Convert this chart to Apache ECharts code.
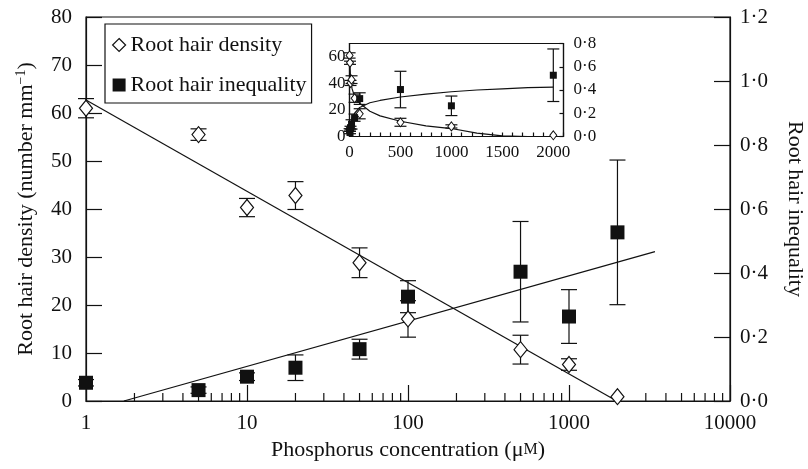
<!DOCTYPE html>
<html>
<head>
<meta charset="utf-8">
<script src="https://cdn.jsdelivr.net/npm/echarts@6/dist/echarts.min.js"></script>
<style>
  html, body { margin: 0; padding: 0; background: #fff; }
  #chart { width: 808px; height: 469px; }
</style>
</head>
<body>
<div id="chart"></div>
<script>
  const concentration = [1, 5, 10, 20, 50, 100, 500, 1000, 2000]
  const density = [61, 55.5, 40.3, 42.8, 28.8, 17.1, 10.7, 7.6, 0.9]
  const densityErr = [2, 1.2, 1.9, 2.9, 3.1, 3.8, 3, 1.2, 0]
  const inequality = [0.057, 0.034, 0.076, 0.104, 0.162, 0.326, 0.404, 0.264, 0.527]
  const inequalityErr = [0.01, 0.01, 0.012, 0.04, 0.031, 0.05, 0.157, 0.084, 0.226]

  // fitted lines on the log axis
  const densityFit = [[1, 62.7], [1980, 0]]
  const inequalityFit = [[1.72, 0], [3420, 0.467]]

  // the same fits as they appear in the linear inset
  const insetDensityFitX = [1, 10, 25, 50, 100, 200, 300, 500, 750, 1000, 1250, 1500, 1750, 2000]
  const insetDensityFit = [62, 44, 36, 30, 25, 19, 15.5, 11.5, 8, 6, 2.5, 0.5, 0, 0]
  const insetInequalityFitX = [2, 10, 25, 50, 100, 200, 300, 500, 750, 1000, 1250, 1500, 1750, 2000]
  const insetInequalityFit = [0.01, 0.11, 0.16, 0.2, 0.25, 0.29, 0.31, 0.34, 0.365, 0.385, 0.4, 0.41, 0.42, 0.425]

  // minor ticks of the log axis (2..9 in every decade)
  const decades = [1, 10, 100, 1000]
  const minorTicks = []
  decades.forEach((d) => {
    for (let k = 2; k <= 9; k++) minorTicks.push(k * d)
  })

  const font = "'Liberation Serif', 'Times New Roman', serif"
  const ink = '#111'
  const dot = (v) => v.toFixed(1).replace('.', '\u00b7')

  const pairs = (xs, ys) => xs.map((x, i) => [x, ys[i]])
  const bars = (vals, errs) =>
    concentration
      .map((c, i) => [c, vals[i] - errs[i], vals[i] + errs[i], errs[i]])
      .filter((d) => d[3] > 0)

  function errorBar(capHalf) {
    return function (params, api) {
      const x = api.value(0)
      const lo = api.coord([x, api.value(1)])
      const hi = api.coord([x, api.value(2)])
      const style = { stroke: ink, lineWidth: 1.2 }
      return {
        type: 'group',
        children: [
          { type: 'line', shape: { x1: hi[0], y1: hi[1], x2: lo[0], y2: lo[1] }, style },
          { type: 'line', shape: { x1: hi[0] - capHalf, y1: hi[1], x2: hi[0] + capHalf, y2: hi[1] }, style },
          { type: 'line', shape: { x1: lo[0] - capHalf, y1: lo[1], x2: lo[0] + capHalf, y2: lo[1] }, style }
        ]
      }
    }
  }

  const chart = echarts.init(document.getElementById('chart'))

  const axisLine = { show: true, lineStyle: { color: ink, width: 1.2 } }
  const bigLabel = { color: ink, fontFamily: font, fontSize: 21 }
  const smallLabel = { color: ink, fontFamily: font, fontSize: 17 }

  chart.setOption({
    animation: false,
    backgroundColor: '#fff',
    grid: [
      { left: 86, right: 78, top: 17, bottom: 68, show: true, borderColor: ink, borderWidth: 1.2, outerBoundsMode: 'none' },
      { left: 349.5, top: 43.5, width: 214, height: 93, show: true, borderColor: ink, borderWidth: 1.2, backgroundColor: '#fff', outerBoundsMode: 'none' }
    ],
    legend: {
      left: 105,
      top: 24,
      orient: 'vertical',
      padding: [10, 5, 7, 7],
      itemGap: 18,
      itemWidth: 13,
      itemHeight: 13,
      borderColor: ink,
      borderWidth: 1.2,
      selectedMode: false,
      textStyle: { color: ink, fontFamily: font, fontSize: 22, lineHeight: 20 },
      data: [
        { name: 'Root hair density', icon: 'diamond', itemStyle: { color: '#fff', borderColor: ink, borderWidth: 1.2 } },
        { name: 'Root hair inequality', icon: 'rect', itemStyle: { color: ink } }
      ]
    },
    xAxis: [
      {
        type: 'log',
        logBase: 10,
        min: 1,
        max: 10000,
        gridIndex: 0,
        name: 'Phosphorus concentration (\u03bc{sc|M})',
        nameLocation: 'middle',
        nameGap: 38,
        nameTextStyle: {
          color: ink, fontFamily: font, fontSize: 22,
          rich: { sc: { fontFamily: font, fontSize: 16, color: ink } }
        },
        axisLine,
        axisTick: { inside: true, length: 16, lineStyle: { color: ink, width: 1.2 } },
        axisLabel: { ...bigLabel, margin: 12, formatter: (v) => String(v) },
        splitLine: { show: false }
      },
      {
        type: 'value',
        min: 0,
        max: 2100,
        interval: 100,
        gridIndex: 1,
        axisLine,
        axisTick: { inside: true, length: 4, lineStyle: { color: ink, width: 1.2 } },
        axisLabel: { ...smallLabel, margin: 8, formatter: (v) => (v % 500 === 0 ? String(v) : '') },
        splitLine: { show: false }
      }
    ],
    yAxis: [
      {
        type: 'value',
        min: 0,
        max: 80,
        interval: 10,
        gridIndex: 0,
        name: 'Root hair density (number mm{sup|\u22121})',
        nameLocation: 'middle',
        nameGap: 48,
        nameTextStyle: {
          color: ink, fontFamily: font, fontSize: 22,
          rich: { sup: { fontFamily: font, fontSize: 14, color: ink, verticalAlign: 'top', padding: [0, 0, 10, 0] } }
        },
        axisLine,
        axisTick: { inside: true, length: 16, lineStyle: { color: ink, width: 1.2 } },
        axisLabel: { ...bigLabel, margin: 14 },
        splitLine: { show: false }
      },
      {
        type: 'value',
        min: 0,
        max: 1.2,
        interval: 0.2,
        gridIndex: 0,
        position: 'right',
        name: 'Root hair inequality',
        nameLocation: 'middle',
        nameRotate: -90,
        nameGap: 54,
        nameTextStyle: { color: ink, fontFamily: font, fontSize: 22 },
        axisLine,
        axisTick: { inside: true, length: 16, lineStyle: { color: ink, width: 1.2 } },
        axisLabel: { ...bigLabel, margin: 10, formatter: dot },
        splitLine: { show: false }
      },
      {
        type: 'value',
        min: 0,
        max: 70,
        interval: 20,
        gridIndex: 1,
        axisLine,
        axisTick: { show: false },
        axisLabel: { ...smallLabel, margin: 4, formatter: (v) => (v % 20 === 0 ? String(v) : '') },
        splitLine: { show: false }
      },
      {
        type: 'value',
        min: 0,
        max: 0.8,
        interval: 0.2,
        gridIndex: 1,
        position: 'right',
        axisLine,
        axisTick: { inside: true, length: 4, lineStyle: { color: ink, width: 1.2 } },
        axisLabel: { ...smallLabel, margin: 10, formatter: dot },
        splitLine: { show: false }
      }
    ],
    series: [
      // log axis minor ticks
      {
        type: 'custom',
        xAxisIndex: 0,
        yAxisIndex: 0,
        silent: true,
        clip: false,
        data: minorTicks.map((v) => [v, 0]),
        renderItem: (params, api) => {
          const p = api.coord([api.value(0), 0])
          return {
            type: 'line',
            shape: { x1: p[0], y1: p[1], x2: p[0], y2: p[1] - 8 },
            style: { stroke: ink, lineWidth: 1.2 }
          }
        }
      },
      // main plot
      {
        type: 'line', name: 'density fit', xAxisIndex: 0, yAxisIndex: 0,
        data: densityFit, symbol: 'none', silent: true,
        lineStyle: { color: ink, width: 1.2 }, z: 2
      },
      {
        type: 'line', name: 'inequality fit', xAxisIndex: 0, yAxisIndex: 1,
        data: inequalityFit, symbol: 'none', silent: true,
        lineStyle: { color: ink, width: 1.2 }, z: 2
      },
      {
        type: 'custom', xAxisIndex: 0, yAxisIndex: 0, clip: false, silent: true,
        encode: { x: 0, y: [1, 2] },
        data: bars(density, densityErr), renderItem: errorBar(8), z: 3
      },
      {
        type: 'custom', xAxisIndex: 0, yAxisIndex: 1, clip: false, silent: true,
        encode: { x: 0, y: [1, 2] },
        data: bars(inequality, inequalityErr), renderItem: errorBar(8), z: 3
      },
      {
        type: 'scatter', name: 'Root hair density', xAxisIndex: 0, yAxisIndex: 0,
        data: pairs(concentration, density), symbol: 'diamond', symbolSize: [13, 16], clip: false,
        itemStyle: { color: '#fff', borderColor: ink, borderWidth: 1.2, opacity: 1 }, z: 5
      },
      {
        type: 'scatter', name: 'Root hair inequality', xAxisIndex: 0, yAxisIndex: 1,
        data: pairs(concentration, inequality), symbol: 'rect', symbolSize: 14, clip: false,
        itemStyle: { color: ink, opacity: 1 }, z: 5
      },
      // inset
      {
        type: 'line', xAxisIndex: 1, yAxisIndex: 2,
        data: pairs(insetDensityFitX, insetDensityFit), symbol: 'none', silent: true,
        lineStyle: { color: ink, width: 1.2 }, z: 12
      },
      {
        type: 'line', xAxisIndex: 1, yAxisIndex: 3,
        data: pairs(insetInequalityFitX, insetInequalityFit), symbol: 'none', silent: true,
        lineStyle: { color: ink, width: 1.2 }, z: 12
      },
      {
        type: 'custom', xAxisIndex: 1, yAxisIndex: 2, clip: false, silent: true,
        encode: { x: 0, y: [1, 2] },
        data: bars(density, densityErr), renderItem: errorBar(6), z: 13
      },
      {
        type: 'custom', xAxisIndex: 1, yAxisIndex: 3, clip: false, silent: true,
        encode: { x: 0, y: [1, 2] },
        data: bars(inequality, inequalityErr), renderItem: errorBar(6), z: 13
      },
      {
        type: 'scatter', xAxisIndex: 1, yAxisIndex: 2,
        data: pairs(concentration, density), symbol: 'diamond', symbolSize: [7, 9], clip: false,
        itemStyle: { color: '#fff', borderColor: ink, borderWidth: 1, opacity: 1 }, z: 15
      },
      {
        type: 'scatter', xAxisIndex: 1, yAxisIndex: 3,
        data: pairs(concentration, inequality), symbol: 'rect', symbolSize: 7, clip: false,
        itemStyle: { color: ink, opacity: 1 }, z: 15
      }
    ]
  })
</script>
</body>
</html>
